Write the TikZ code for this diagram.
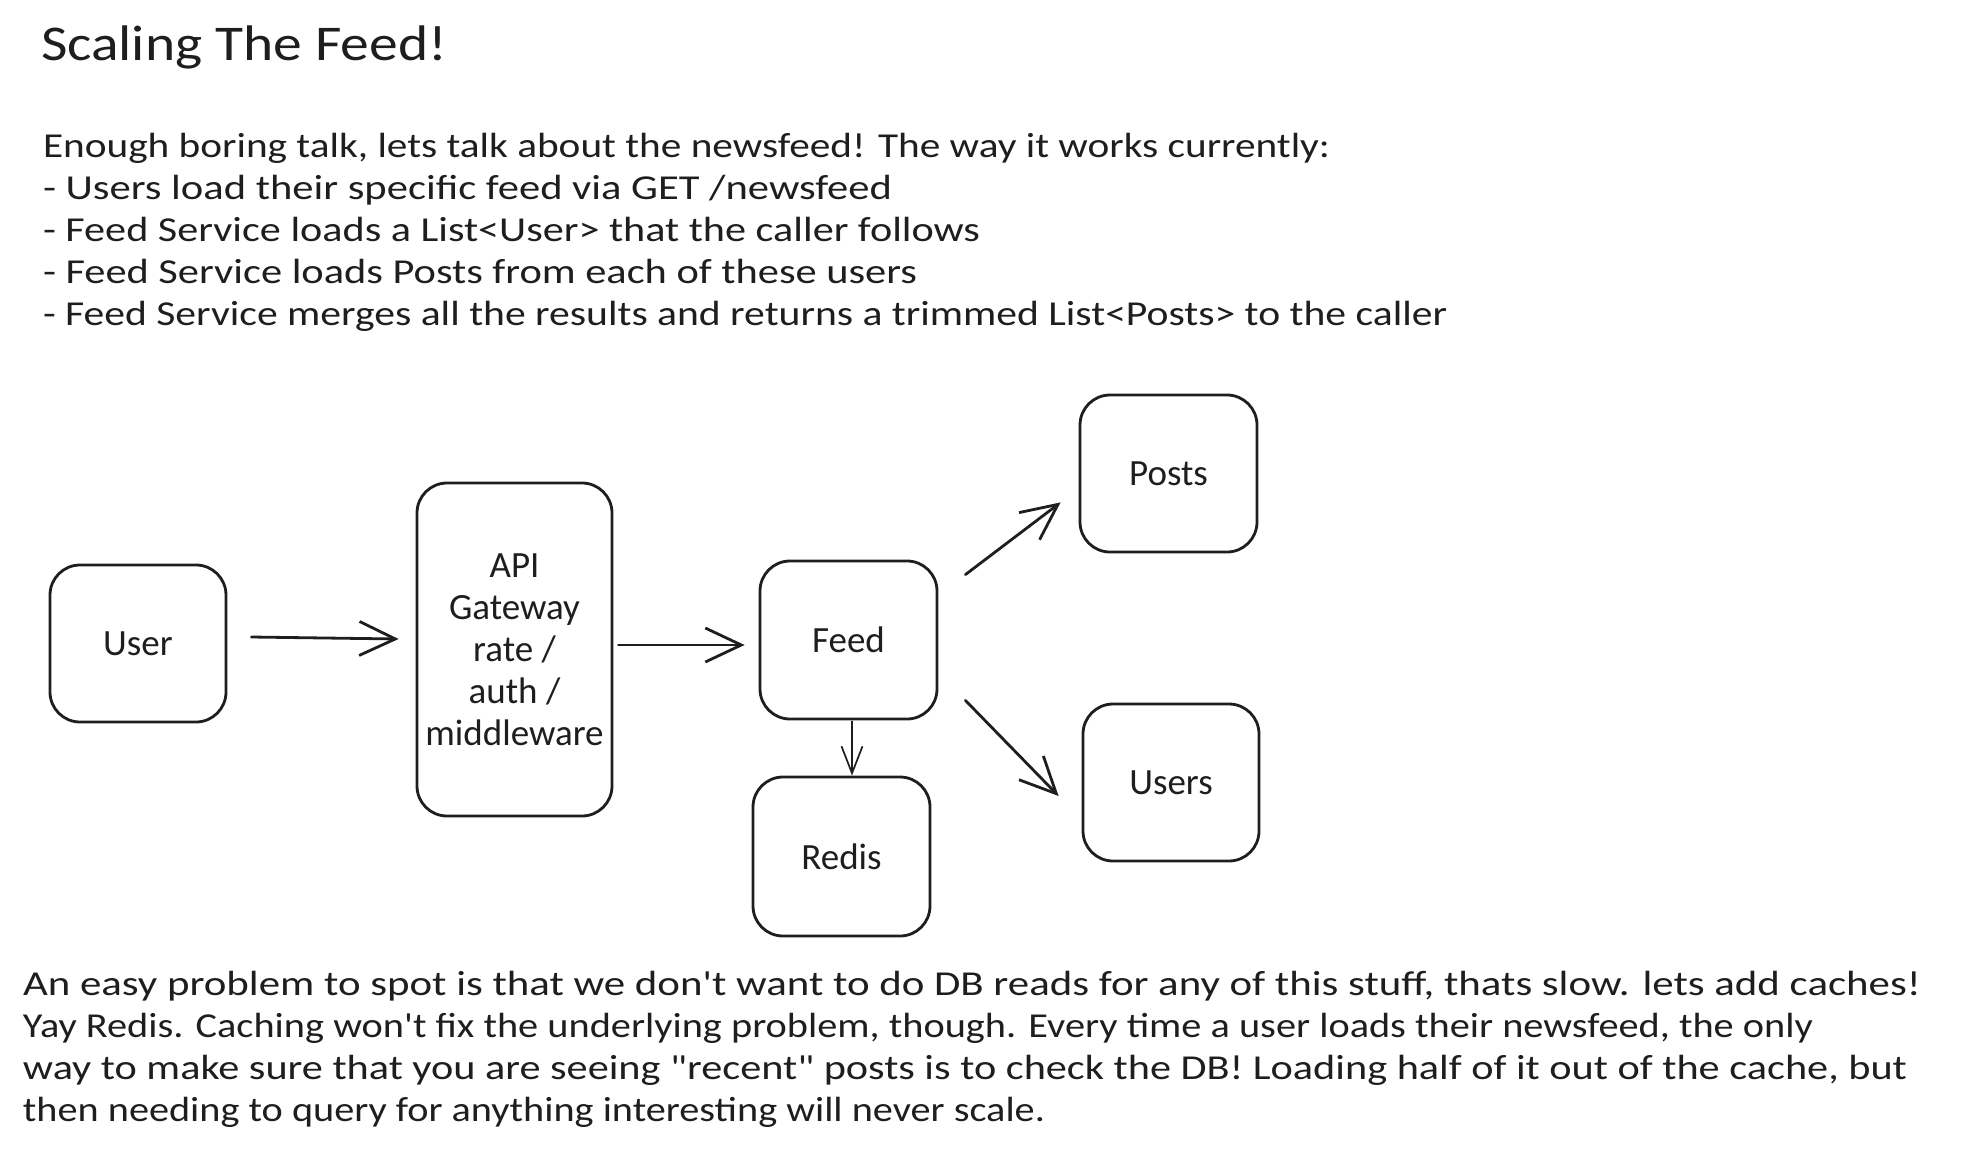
\documentclass[tikz,border=0pt]{standalone}
\usepackage{fontspec}
\setmainfont{Carlito}
\usetikzlibrary{arrows.meta,calc}
\definecolor{ink}{HTML}{1E1E1E}
\tikzset{
  box/.style={draw=ink, line width=2.8pt, rounded corners=30pt, fill=white,
    font=\fontsize{37}{42}\selectfont, text=ink, align=center, inner sep=0pt},
  txt/.style={anchor=base west, inner sep=0pt, outer sep=0pt, text=ink, font=\fontsize{35}{42}\selectfont},
  conn/.style={draw=ink, line width=2.8pt, line cap=round, line join=round,
    -{Straight Barb[length=36pt,width=34pt,line width=2.8pt]}},
  thinconn/.style={draw=ink, line width=1.7pt, line cap=round, line join=round,
    -{Straight Barb[length=27pt,width=21pt,line width=1.7pt]}}
}
\newcommand{\fitw}[2]{\resizebox{#1pt}{\height}{#2}}
\begin{document}
\begin{tikzpicture}[x=1pt,y=-1pt]
\useasboundingbox (0,0) rectangle (1964,1170);
% title
\node[txt, font=\fontsize{50}{60}\selectfont] (title) at (41,60) {\fitw{406}{Scaling The Feed!}};
% intro paragraph
\node[txt] (p1) at (43,157) {\fitw{1287}{Enough boring talk, lets talk about the newsfeed! The way it works currently:}};
\node[txt] (p2) at (43,199) {\fitw{849}{- Users load their specific feed via GET /newsfeed}};
\node[txt] (p3) at (43,241) {\fitw{937}{- Feed Service loads a List<User> that the caller follows}};
\node[txt] (p4) at (43,283) {\fitw{874}{- Feed Service loads Posts from each of these users}};
\node[txt] (p5) at (43,325) {\fitw{1404}{- Feed Service merges all the results and returns a trimmed List<Posts> to the caller}};
% boxes
\node[box, minimum width=176pt, minimum height=157pt] (user) at (138,643.5) {User};
\node[box, minimum width=195pt, minimum height=333pt] (api) at (514.5,649.5) {API\\Gateway\\rate /\\auth /\\middleware};
\node[box, minimum width=177pt, minimum height=158pt] (feed) at (848.5,640) {Feed};
\node[box, minimum width=177pt, minimum height=159pt] (redis) at (841.5,856.5) {Redis};
\node[box, minimum width=177pt, minimum height=157pt] (posts) at (1168.5,473.5) {Posts};
\node[box, minimum width=176pt, minimum height=157pt] (users) at (1171,782.5) {Users};
% connectors
\draw[conn] ($(user.east)+(24,-6.5)$) -- ($(api.west)+(-17,-10.5)$);
\draw[conn] ($(api.east)+(5,-4.5)$) -- ($(feed.west)+(-14,5)$);
\draw[conn] ($(feed.north east)+(27,15)$) -- ($(posts.south west)+(-18,-51)$);
\draw[conn] ($(feed.south east)+(27,-20)$) -- ($(users.west)+(-23,13.5)$);
\draw[thinconn] ($(feed.south)+(3.5,1)$) -- ($(redis.north)+(10.5,0)$);
% closing paragraph
\node[txt] (b1) at (23,995) {\fitw{1898}{An easy problem to spot is that we don\textquotesingle t want to do DB reads for any of this stuff, thats slow. lets add caches!}};
\node[txt] (b2) at (23,1037) {\fitw{1790}{Yay Redis. Caching won\textquotesingle t fix the underlying problem, though. Every time a user loads their newsfeed, the only}};
\node[txt] (b3) at (23,1079) {\fitw{1884}{way to make sure that you are seeing \textquotedbl recent\textquotedbl{} posts is to check the DB! Loading half of it out of the cache, but}};
\node[txt] (b4) at (23,1121) {\fitw{1022}{then needing to query for anything interesting will never scale.}};
\end{tikzpicture}
\end{document}
